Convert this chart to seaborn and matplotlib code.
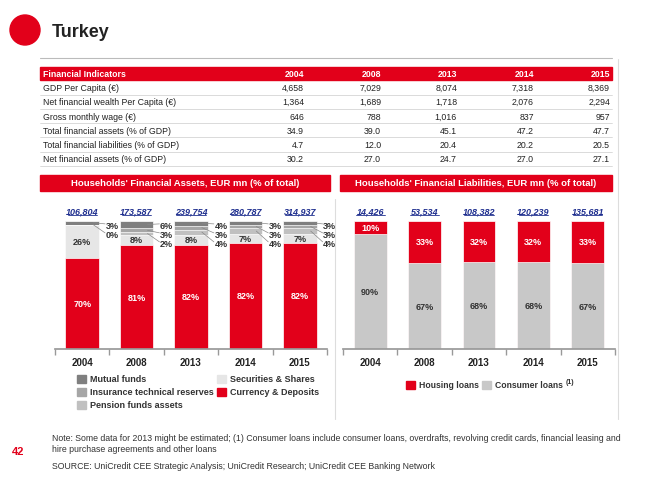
import matplotlib
matplotlib.use("Agg")
import matplotlib.pyplot as plt
import seaborn as sns
import numpy as np
import pandas as pd
from matplotlib.patches import Rectangle, Ellipse

sns.set_theme(style="white")
plt.rcParams['font.family'] = ['Liberation Sans', 'DejaVu Sans']

years = ["2004", "2008", "2013", "2014", "2015"]
tbl_cols = ["2004", "2008", "2013", "2014", "2015"]
tbl_rows = ["GDP Per Capita (€)", "Net financial wealth Per Capita (€)", "Gross monthly wage (€)",
            "Total financial assets (% of GDP)", "Total financial liabilities (% of GDP)",
            "Net financial assets (% of GDP)"]
tbl_vals = [["4,658", "7,029", "8,074", "7,318", "8,369"],
            ["1,364", "1,689", "1,718", "2,076", "2,294"],
            ["646", "788", "1,016", "837", "957"],
            ["34.9", "39.0", "45.1", "47.2", "47.7"],
            ["4.7", "12.0", "20.4", "20.2", "20.5"],
            ["30.2", "27.0", "24.7", "27.0", "27.1"]]

assets_total = ["106,804", "173,587", "239,754", "280,787", "314,937"]
currency = [70, 81, 82, 82, 82]
securities = [26, 8, 8, 7, 7]
pension = [0, 2, 4, 4, 4]
insurance = [0, 3, 3, 3, 3]
mutual = [3, 6, 4, 3, 3]

liab_total = ["14,426", "53,534", "108,382", "120,239", "135,681"]
consumer = [90, 67, 68, 68, 67]
housing = [10, 33, 32, 32, 33]

RED = "#e2001a"
W, H = 650, 481
fig = plt.figure(figsize=(6.5, 4.81), dpi=100)

def fx(x): return x / W
def fy(y): return 1 - y / H

# header
fig.patches.append(Ellipse((fx(25), fy(31)), 30 / W, 30 / H, transform=fig.transFigure, color=RED))
fig.text(fx(52), fy(33), "Turkey", fontsize=13, fontweight="bold", va="center", color="#222")
fig.add_artist(plt.Line2D([fx(40), fx(612)], [fy(59), fy(59)], color="#bbbbbb", lw=0.8))

# table
colx = [306, 383, 459, 536, 612]
fig.patches.append(Rectangle((fx(40), fy(81)), fx(572), 13 / H, transform=fig.transFigure, color=RED))
fig.text(fx(43), fy(74.5), "Financial Indicators", fontsize=6.3, fontweight="bold", color="white", va="center")
for c, x in zip(tbl_cols, colx):
    fig.text(fx(x - 2), fy(74.5), c, fontsize=6.3, fontweight="bold", color="white", va="center", ha="right")
for i, (rname, vals) in enumerate(zip(tbl_rows, tbl_vals)):
    yc = 88.5 + i * 14.3
    fig.text(fx(43), fy(yc), rname, fontsize=6.3, color="#222", va="center")
    for v, x in zip(vals, colx):
        fig.text(fx(x - 2), fy(yc), v, fontsize=6.3, color="#222", va="center", ha="right")
    fig.add_artist(plt.Line2D([fx(40), fx(612)], [fy(yc + 7), fy(yc + 7)], color="#cccccc", lw=0.5))

# chart headers
for x0, x1, t in [(40, 330, "Households' Financial Assets, EUR mn (% of total)"),
                  (340, 612, "Households' Financial Liabilities, EUR mn (% of total)")]:
    fig.patches.append(Rectangle((fx(x0), fy(192)), fx(x1 - x0), 16 / H, transform=fig.transFigure, color=RED))
    fig.text(fx((x0 + x1) / 2), fy(184), t, fontsize=6.8, fontweight="bold", color="white", ha="center", va="center")
fig.add_artist(plt.Line2D([fx(335), fx(335)], [fy(200), fy(420)], color="#dddddd", lw=0.8))
fig.add_artist(plt.Line2D([fx(618), fx(618)], [fy(60), fy(420)], color="#dddddd", lw=0.8))

def setup_ax(ax):
    ax.set_ylim(0, 113)
    ax.set_xlim(-0.5, 4.5)
    ax.set_yticks([])
    ax.set_ylabel("")
    ax.set_xlabel("")
    for s in ["top", "right", "left"]:
        ax.spines[s].set_visible(False)
    ax.spines["bottom"].set_color("#999999")
    ax.set_xticks(range(5))
    ax.set_xticklabels(years, fontsize=7, fontweight="bold", color="#222")
    ax.set_xticks(np.arange(-0.5, 5, 1), minor=True)
    ax.tick_params(axis="x", which="major", length=0, pad=6)
    ax.tick_params(axis="x", which="minor", length=4, color="#999999", bottom=True)
    ax.patch.set_alpha(0)

# assets chart
ax1 = fig.add_axes([fx(55), fy(350), fx(272), (350 - 205) / H])
layers = [("Currency & Deposits", currency, RED), ("Securities & Shares", securities, "#e6e6e6"),
          ("Pension funds assets", pension, "#c0c0c0"), ("Insurance technical reserves", insurance, "#a6a6a6"),
          ("Mutual funds", mutual, "#7f7f7f")]
arr = np.array([l[1] for l in layers], dtype=float)
arr = arr / arr.sum(axis=0) * 100
cum = np.cumsum(arr, axis=0)
for k in range(len(layers) - 1, -1, -1):
    df = pd.DataFrame({"year": years, "v": cum[k]})
    sns.barplot(data=df, x="year", y="v", color=layers[k][2], width=0.62, ax=ax1,
                saturation=1, edgecolor="white", linewidth=0.5)
setup_ax(ax1)
for i in range(5):
    ax1.text(i, (cum[0][i]) / 2, f"{currency[i]}%", ha="center", va="center", fontsize=6.5, fontweight="bold", color="white")
    ax1.text(i, (cum[0][i] + cum[1][i]) / 2, f"{securities[i]}%", ha="center", va="center", fontsize=6.5, fontweight="bold", color="#333")
    ax1.text(i, 107.5, assets_total[i], ha="center", va="center", fontsize=6.5, fontweight="bold",
             style="italic", color="#1f2f8f")
    ax1.plot([i - 0.27, i + 0.27], [104.8, 104.8], color="#1f2f8f", lw=0.6)
    if i == 0:
        items = [(mutual[i], cum[4][i] - arr[4][i] / 2, 96), (pension[i], cum[2][i], 89)]
    else:
        items = [(mutual[i], cum[4][i] - arr[4][i] / 2, 96), (insurance[i], cum[3][i] - arr[3][i] / 2, 89),
                 (pension[i], cum[2][i] - arr[2][i] / 2, 82)]
    for val, ys, yl in items:
        ax1.plot([i + 0.2, i + 0.42], [ys, yl + 1.5], color="#888", lw=0.5)
        ax1.text(i + 0.43, yl, f"{val}%", fontsize=6.5, fontweight="bold", color="#333", va="center")

# liabilities chart
ax2 = fig.add_axes([fx(343), fy(350), fx(272), (350 - 205) / H])
tot = np.array(consumer) + np.array(housing)
df = pd.DataFrame({"year": years, "v": tot / tot * 100})
sns.barplot(data=df, x="year", y="v", color=RED, width=0.6, ax=ax2, saturation=1, edgecolor="white", linewidth=0.5)
df = pd.DataFrame({"year": years, "v": np.array(consumer) / tot * 100})
sns.barplot(data=df, x="year", y="v", color="#c8c8c8", width=0.6, ax=ax2, saturation=1, edgecolor="white", linewidth=0.5)
setup_ax(ax2)
for i in range(5):
    c = consumer[i] / tot[i] * 100
    ax2.text(i, c / 2, f"{consumer[i]}%", ha="center", va="center", fontsize=6.5, fontweight="bold", color="#333")
    ax2.text(i, (c + 100) / 2, f"{housing[i]}%", ha="center", va="center", fontsize=6.5, fontweight="bold", color="white")
    ax2.text(i, 107.5, liab_total[i], ha="center", va="center", fontsize=6.5, fontweight="bold",
             style="italic", color="#1f2f8f")
    ax2.plot([i - 0.27, i + 0.27], [104.8, 104.8], color="#1f2f8f", lw=0.6)

# legends
def swatch(x, y, col, label, fs=6.5):
    fig.patches.append(Rectangle((fx(x), fy(y + 4)), 9 / W, 8 / H, transform=fig.transFigure, color=col))
    fig.text(fx(x + 13), fy(y), label, fontsize=fs, fontweight="bold", color="#333", va="center")

swatch(77, 380, "#7f7f7f", "Mutual funds")
swatch(77, 393, "#a6a6a6", "Insurance technical reserves")
swatch(77, 406, "#c0c0c0", "Pension funds assets")
swatch(217, 380, "#e6e6e6", "Securities & Shares")
swatch(217, 393, RED, "Currency & Deposits")
swatch(406, 386, RED, "Housing loans", fs=6.2)
swatch(482, 386, "#c8c8c8", "Consumer loans", fs=6.2)
fig.text(fx(566), fy(382), "(1)", fontsize=5, fontweight="bold", color="#333", va="center")

# footer
fig.text(fx(12), fy(452), "42", fontsize=8, fontweight="bold", color=RED, va="center")
fig.text(fx(52), fy(439), "Note: Some data for 2013 might be estimated; (1) Consumer loans include consumer loans, overdrafts, revolving credit cards, financial leasing and",
         fontsize=6.3, color="#333", va="center")
fig.text(fx(52), fy(450), "hire purchase agreements and other loans", fontsize=6.3, color="#333", va="center")
fig.text(fx(52), fy(467), "SOURCE: UniCredit CEE Strategic Analysis; UniCredit Research; UniCredit CEE Banking Network",
         fontsize=6.3, color="#333", va="center")

fig.savefig("out.png", dpi=100)
